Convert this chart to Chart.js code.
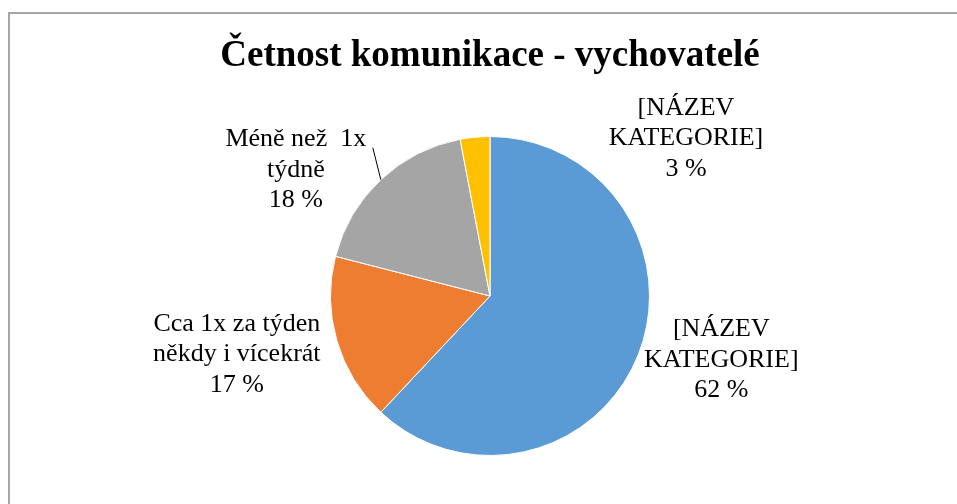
<!DOCTYPE html>
<html>
<head>
<meta charset="utf-8">
<script src="https://cdn.jsdelivr.net/npm/chart.js@4/dist/chart.umd.min.js"></script>
<style>
  html, body { margin: 0; padding: 0; background: #fff; overflow: hidden; }
  #chart { display: block; }
</style>
</head>
<body>
<canvas id="chart" width="957" height="504"></canvas>
<script>
const chartTitle = 'Četnost komunikace - vychovatelé';
const categories = [
  ['[NÁZEV', 'KATEGORIE]'],
  ['Cca 1x za týden', 'někdy i vícekrát'],
  ['Méně než  1x', 'týdně'],
  ['[NÁZEV', 'KATEGORIE]'],
];
const values = [62, 17, 18, 3];
const colors = ['#5B9BD5', '#ED7D31', '#A5A5A5', '#FFC000'];

const serif = '"Liberation Serif", "Times New Roman", serif';

// label placement relative to the outer middle point of each slice
const labelOffsets = [[83, 5], [-100, 14], [-85, -10], [211, 1]];
const leaderEnds = [null, null, [-8, -32], null];

const framePlugin = {
  id: 'frame',
  beforeDraw(chart) {
    const { ctx } = chart;
    ctx.save();
    ctx.strokeStyle = '#a6a6a6';
    ctx.lineWidth = 2;
    ctx.strokeRect(9, 13, 2000, 2000);
    ctx.restore();
  },
};

const labelPlugin = {
  id: 'excelLabels',
  afterDraw(chart) {
    const { ctx } = chart;
    ctx.save();
    ctx.fillStyle = '#000';
    ctx.textAlign = 'center';
    ctx.textBaseline = 'middle';
    ctx.font = `bold 37px ${serif}`;
    ctx.fillText(chartTitle, 490, 56);

    const total = values.reduce((a, b) => a + b, 0);
    const arcs = chart.getDatasetMeta(0).data;
    ctx.font = `26px ${serif}`;
    arcs.forEach((arc, i) => {
      const mid = (arc.startAngle + arc.endAngle) / 2;
      const ex = arc.x + Math.cos(mid) * arc.outerRadius;
      const ey = arc.y + Math.sin(mid) * arc.outerRadius;
      const [dx, dy] = labelOffsets[i];
      const lines = [...categories[i], `${Math.round(values[i] / total * 100)} %`];
      const lh = 30.5;
      const cx = ex + dx;
      const cy = ey + dy;
      lines.forEach((t, j) => {
        ctx.fillText(t, cx, cy + (j - (lines.length - 1) / 2) * lh);
      });
      if (leaderEnds[i]) {
        ctx.strokeStyle = '#000';
        ctx.lineWidth = 1;
        ctx.beginPath();
        ctx.moveTo(ex, ey);
        ctx.lineTo(ex + leaderEnds[i][0], ey + leaderEnds[i][1]);
        ctx.stroke();
      }
    });
    ctx.restore();
  },
};

new Chart(document.getElementById('chart'), {
  type: 'pie',
  data: {
    labels: categories.map((c) => c.join(' ')),
    datasets: [{
      data: values,
      backgroundColor: colors,
      borderColor: '#ffffff',
      borderWidth: 1,
    }],
  },
  options: {
    responsive: false,
    animation: false,
    layout: { padding: { left: 23, right: 0, top: 136, bottom: 48 } },
    plugins: {
      legend: { display: false },
      tooltip: { enabled: false },
      title: { display: false },
    },
  },
  plugins: [framePlugin, labelPlugin],
});
</script>
</body>
</html>
